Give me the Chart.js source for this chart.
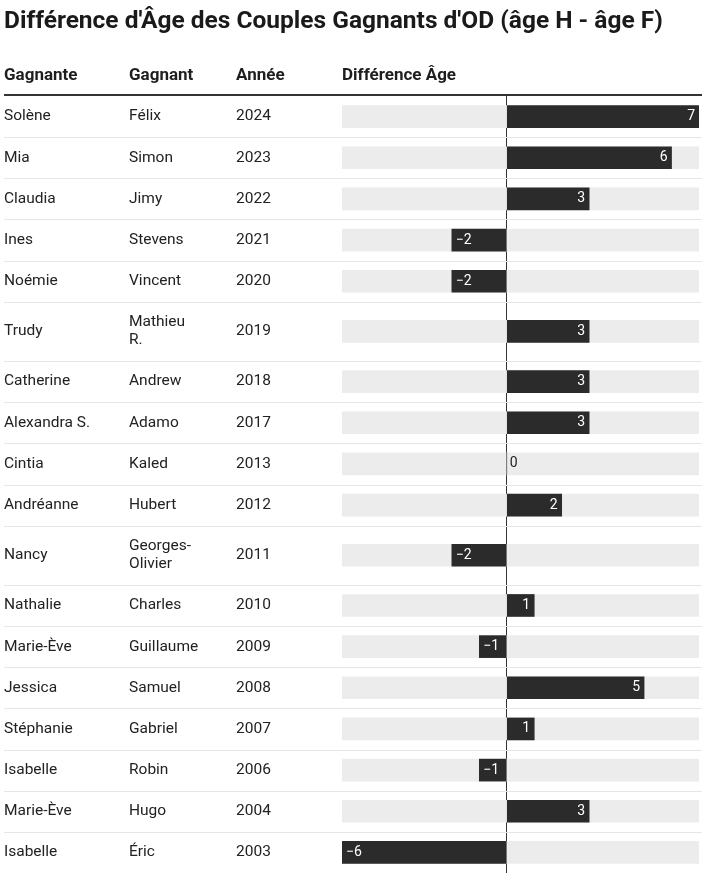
<!DOCTYPE html>
<html>
<head>
<meta charset="utf-8">
<script src="https://cdn.jsdelivr.net/npm/chart.js@4.4.1/dist/chart.umd.min.js"></script>
<style>
  html, body { margin: 0; padding: 0; background: #ffffff; }
  #wrap { width: 702px; height: 874px; }
</style>
</head>
<body>
<div id="wrap"><canvas id="c" width="702" height="874"></canvas></div>
<script>
// ---- data ----
const titleText = "Différence d'Âge des Couples Gagnants d'OD (âge H - âge F)";
const headers = ["Gagnante", "Gagnant", "Année", "Différence Âge"];
const gagnante = ["Solène","Mia","Claudia","Ines","Noémie","Trudy","Catherine","Alexandra S.","Cintia","Andréanne","Nancy","Nathalie","Marie-Ève","Jessica","Stéphanie","Isabelle","Marie-Ève","Isabelle"];
const gagnant = ["Félix","Simon","Jimy","Stevens","Vincent",["Mathieu","R."],"Andrew","Adamo","Kaled","Hubert",["Georges-","Olivier"],"Charles","Guillaume","Samuel","Gabriel","Robin","Hugo","Éric"];
const annee = ["2024","2023","2022","2021","2020","2019","2018","2017","2013","2012","2011","2010","2009","2008","2007","2006","2004","2003"];
const difference = [7, 6, 3, -2, -2, 3, 3, 3, 0, 2, -2, 1, -1, 5, 1, -1, 3, -6];

// ---- row layout derived from label line counts ----
const ROW_PAD = 23, LINE_H = 18;
const lineCount = (l) => Array.isArray(l) ? l.length : 1;
const rowHeights = gagnante.map((g, i) => ROW_PAD + LINE_H * Math.max(lineCount(g), lineCount(gagnant[i]), lineCount(annee[i])));
const rowStarts = [];
let acc = 0;
rowHeights.forEach(h => { rowStarts.push(acc); acc += h; });
const totalRows = acc;
const rowCenters = rowHeights.map((h, i) => rowStarts[i] + h / 2);

const xMin = Math.min(...difference);
const xMax = Math.max(...difference);

const FONT = "Roboto, 'Liberation Sans', sans-serif";
const fmt = (v) => (v < 0 ? "\u2212" + Math.abs(v) : String(v));

function textAxis(labels, weight, width) {
  return {
    type: 'linear',
    position: 'left',
    reverse: true,
    offset: false,
    min: 0,
    max: totalRows,
    weight: weight,
    grid: { display: false, drawTicks: false },
    border: { display: false },
    afterBuildTicks: (s) => { s.ticks = rowCenters.map(v => ({ value: v })); },
    afterFit: (s) => { s.width = width; s.paddingTop = 0; s.paddingBottom = 0; },
    ticks: {
      autoSkip: false,
      crossAlign: 'far',
      padding: 0,
      color: '#222222',
      font: { family: FONT, size: 15.5, lineHeight: LINE_H / 15.5 },
      callback: (v, i) => labels[i]
    }
  };
}

const tablePlugin = {
  id: 'tablePlugin',
  beforeDatasetsDraw(chart) {
    const ctx = chart.ctx;
    const y = chart.scales.y;
    ctx.save();
    // row separators
    ctx.strokeStyle = '#e6e6e6';
    ctx.lineWidth = 1;
    for (let i = 1; i < rowStarts.length; i++) {
      const py = Math.round(y.getPixelForValue(rowStarts[i])) + 0.5;
      ctx.beginPath();
      ctx.moveTo(4, py);
      ctx.lineTo(chart.width, py);
      ctx.stroke();
    }
    ctx.restore();
  },
  afterDraw(chart) {
    const ctx = chart.ctx;
    const ca = chart.chartArea;
    const s = chart.scales;
    ctx.save();
    // header texts
    ctx.fillStyle = '#1e1e1e';
    ctx.font = "bold 17px " + FONT;
    ctx.textBaseline = 'middle';
    ctx.textAlign = 'left';
    const hy = ca.top - 20;
    ctx.fillText(headers[0], s.yG.left, hy);
    ctx.fillText(headers[1], s.yH.left, hy);
    ctx.fillText(headers[2], s.y.left, hy);
    ctx.fillText(headers[3], ca.left, hy);
    // header rule
    ctx.fillStyle = '#333333';
    ctx.fillRect(4, ca.top - 2, chart.width - 4, 2);
    // value labels
    const meta = chart.getDatasetMeta(1);
    ctx.font = "14px " + FONT;
    meta.data.forEach((bar, i) => {
      const v = difference[i];
      if (v > 0) {
        ctx.fillStyle = '#ffffff';
        ctx.textAlign = 'right';
        ctx.fillText(fmt(v), bar.x - 4, bar.y);
      } else if (v < 0) {
        ctx.fillStyle = '#ffffff';
        ctx.textAlign = 'left';
        ctx.fillText(fmt(v), bar.x + 4, bar.y);
      } else {
        ctx.fillStyle = '#222222';
        ctx.textAlign = 'left';
        ctx.fillText(fmt(v), bar.base + 3, bar.y);
      }
    });
    ctx.restore();
  }
};

new Chart(document.getElementById('c'), {
  type: 'bar',
  data: {
    datasets: [
      {
        label: 'fond',
        data: rowCenters.map(c => ({ x: [xMin, xMax], y: c })),
        backgroundColor: '#ececec',
        borderWidth: 0,
        barThickness: 22,
        grouped: false,
        order: 2,
        yAxisID: 'y'
      },
      {
        label: headers[3],
        data: rowCenters.map((c, i) => ({ x: difference[i], y: c })),
        backgroundColor: '#2b2b2b',
        borderWidth: 0,
        barThickness: 22,
        grouped: false,
        order: 1,
        yAxisID: 'y'
      }
    ]
  },
  plugins: [tablePlugin],
  options: {
    indexAxis: 'y',
    responsive: false,
    devicePixelRatio: 1,
    animation: false,
    layout: { padding: { left: 4, right: 3, top: 0, bottom: 1 } },
    plugins: {
      legend: { display: false },
      tooltip: { enabled: false },
      title: {
        display: true,
        text: titleText,
        align: 'start',
        color: '#1a1a1a',
        font: { family: FONT, size: 24.5, weight: 'bold', lineHeight: 1.2 },
        padding: { top: 7, bottom: 59.6 }
      }
    },
    scales: {
      x: {
        type: 'linear',
        position: 'bottom',
        min: xMin,
        max: xMax,
        ticks: { display: false },
        border: { display: false },
        grid: {
          drawTicks: false,
          lineWidth: 1,
          color: (c) => (c.tick && c.tick.value === 0 ? '#333333' : 'rgba(0,0,0,0)')
        }
      },
      yG: textAxis(gagnante, 3, 125),
      yH: textAxis(gagnant, 2, 107),
      y: textAxis(annee, 1, 106)
    }
  }
});
</script>
</body>
</html>
